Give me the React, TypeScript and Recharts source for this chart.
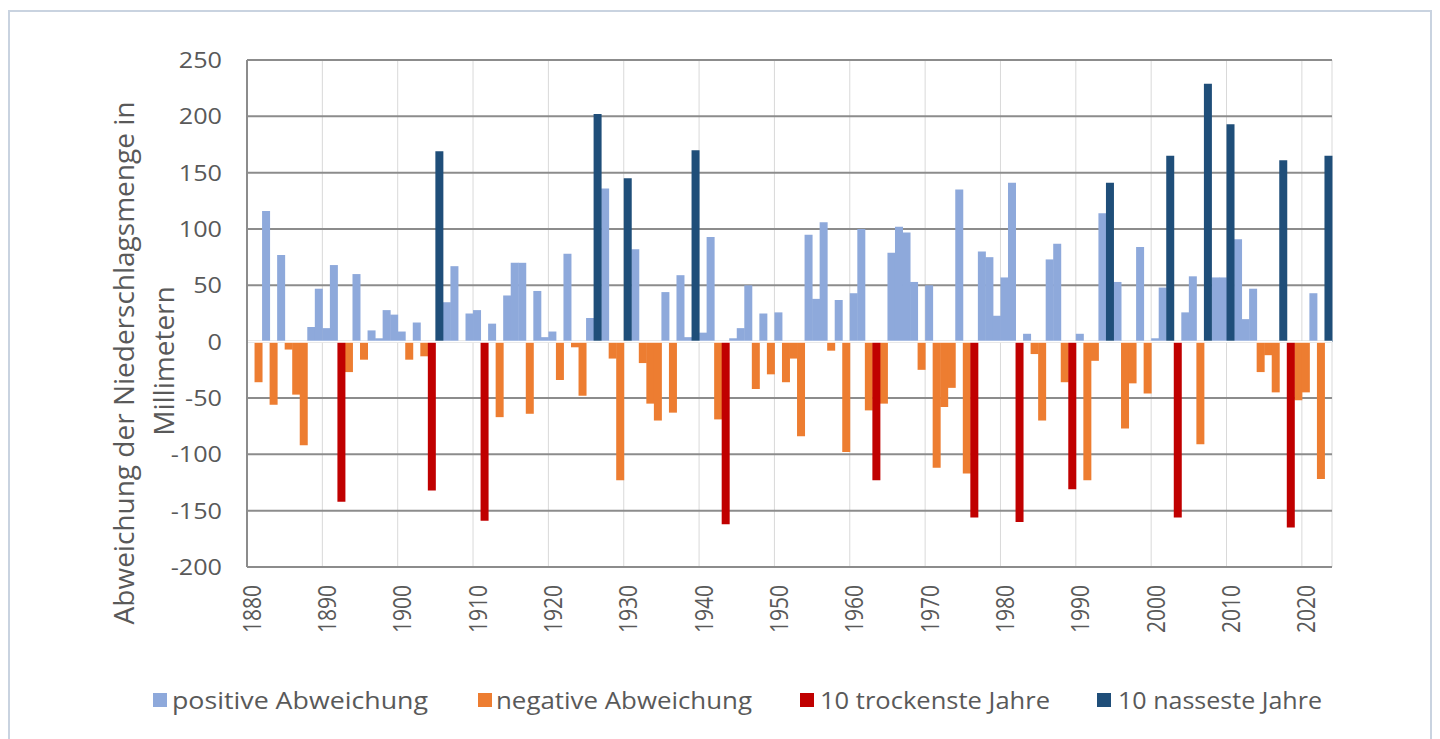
import React from "react";
import {
  Bar,
  BarChart,
  CartesianGrid,
  ReferenceLine,
  XAxis,
  YAxis,
} from "recharts";

// Abweichung vom Mittel, 1880 (leer) bis 2023
const firstYear = 1880;
const deviation: (number | null)[] = [
  null, -36, 116, -56, 77, -7, -47, -92, 13, 47,
  12, 68, -142, -27, 60, -16, 10, 3, 28, 24,
  9, -16, 17, -13, -132, 169, 35, 67, 0, 25,
  28, -159, 16, -67, 41, 70, 70, -64, 45, 4,
  9, -34, 78, -5, -48, 21, 202, 136, -15, -123,
  145, 82, -19, -55, -70, 44, -63, 59, 4, 170,
  8, 93, -69, -162, 3, 12, 50, -42, 25, -29,
  26, -36, -15, -84, 95, 38, 106, -8, 37, -98,
  43, 100, -61, -123, -55, 79, 102, 97, 53, -25,
  50, -112, -58, -41, 135, -117, -156, 80, 75, 23,
  57, 141, -160, 7, -11, -70, 73, 87, -36, -131,
  7, -123, -17, 114, 141, 53, -77, -37, 84, -46,
  3, 48, 165, -156, 26, 58, -91, 229, 57, 57,
  193, 91, 20, 47, -27, -12, -45, 161, -165, -52,
  -45, 43, -122, 165,
];
const years = deviation.map((_, i) => firstYear + i);

const wettestYears = [1905, 1926, 1930, 1939, 1994, 2002, 2007, 2010, 2017, 2023];
const driestYears = [1892, 1904, 1911, 1943, 1963, 1976, 1982, 1989, 2003, 2018];

const yTicks = [-200, -150, -100, -50, 0, 50, 100, 150, 200, 250];
// vertical grid every 5 years, on the left edge of the year
const gridTicks = years.filter((y) => (y - firstYear) % 5 === 0).map((y) => y - 0.5);

const seriesNames = {
  pos: "positive Abweichung",
  neg: "negative Abweichung",
  dry: "10 trockenste Jahre",
  wet: "10 nasseste Jahre",
};

const COLORS = {
  pos: "#8EA9DB",
  neg: "#ED7D31",
  dry: "#C00000",
  wet: "#1F4E79",
};

const data = years.map((year, i) => {
  const v = deviation[i];
  const wet = wettestYears.includes(year);
  const dry = driestYears.includes(year);
  return {
    year,
    pos: v != null && v > 0 && !wet ? v : 0,
    neg: v != null && v < 0 && !dry ? v : 0,
    dry: dry && v != null ? v : 0,
    wet: wet && v != null ? v : 0,
  };
});

const FONT = "'Open Sans', sans-serif";
const TEXT = "#595959";

const YTick = ({ x, y, payload }: any) => (
  <text
    transform={`translate(${x},${y}) scale(1.2,1)`}
    textAnchor="end"
    dominantBaseline="central"
    fill={TEXT}
    fontSize={21}
    fontFamily={FONT}
  >
    {payload.value}
  </text>
);

const XTick = ({ x, y, payload }: any) => (
  <text
    transform={`translate(${x},${y}) scale(1.2,1) rotate(-90)`}
    textAnchor="end"
    dominantBaseline="central"
    fill={TEXT}
    fontSize={21}
    fontFamily={FONT}
  >
    {payload.value}
  </text>
);

const legendItems = [
  { key: "pos", box: 153, text: 172, width: 256 },
  { key: "neg", box: 478, text: 496, width: 256 },
  { key: "dry", box: 800, text: 820, width: 230 },
  { key: "wet", box: 1097, text: 1118, width: 204 },
] as const;

export default function App() {
  return (
    <div style={{ position: "relative", width: 1440, height: 739, background: "#fff" }}>
      <style>{"body{margin:0;overflow:hidden;background:#fff}"}</style>
      <div
        style={{
          position: "absolute",
          left: 8,
          top: 10,
          width: 1424,
          height: 760,
          border: "2px solid #C9D3E0",
          boxSizing: "border-box",
        }}
      />
      <div style={{ position: "absolute", left: 0, top: 0 }}>
        <BarChart
          width={1440}
          height={739}
          data={data}
          stackOffset="sign"
          barCategoryGap={0}
          margin={{ top: 60, right: 108, bottom: 112, left: 167 }}
        >
          <XAxis xAxisId="grid" type="number" dataKey="year" domain={[1879.5, 2023.5]} ticks={gridTicks} hide />
          <CartesianGrid xAxisId="grid" horizontal={false} stroke="#D9D9D9" strokeWidth={1} />
          <CartesianGrid vertical={false} stroke="#8C8C8C" strokeWidth={2} />
          <XAxis
            dataKey="year"
            interval={9}
            height={60}
            axisLine={false}
            tickLine={false}
            tickSize={0}
            tickMargin={18}
            tick={<XTick />}
          />
          <YAxis
            domain={[-200, 250]}
            ticks={yTicks}
            width={80}
            axisLine={{ stroke: "#8C8C8C", strokeWidth: 2 }}
            tickLine={false}
            tickSize={0}
            tickMargin={25}
            tick={<YTick />}
          />
          <Bar dataKey="pos" name={seriesNames.pos} stackId="a" fill={COLORS.pos} isAnimationActive={false} />
          <Bar dataKey="neg" name={seriesNames.neg} stackId="a" fill={COLORS.neg} isAnimationActive={false} />
          <Bar dataKey="dry" name={seriesNames.dry} stackId="a" fill={COLORS.dry} isAnimationActive={false} />
          <Bar dataKey="wet" name={seriesNames.wet} stackId="a" fill={COLORS.wet} isAnimationActive={false} />
          <ReferenceLine y={0} stroke="#FFFFFF" strokeWidth={2} />
        </BarChart>
      </div>
      <svg
        width={1440}
        height={739}
        style={{ position: "absolute", left: 0, top: 0, pointerEvents: "none" }}
      >
        <g fill={TEXT} fontFamily={FONT} fontSize={28} textAnchor="middle">
          <text transform="translate(123,363) rotate(-90)" dominantBaseline="central">
            Abweichung der Niederschlagsmenge in
          </text>
          <text transform="translate(163,361) rotate(-90)" dominantBaseline="central">
            Millimetern
          </text>
        </g>
        {legendItems.map((it) => (
          <g key={it.key}>
            <rect x={it.box} y={693} width={14} height={14} fill={COLORS[it.key]} />
            <text
              x={it.text}
              y={700}
              dominantBaseline="central"
              fill={TEXT}
              fontSize={23}
              fontFamily={FONT}
              textLength={it.width}
              lengthAdjust="spacingAndGlyphs"
            >
              {seriesNames[it.key]}
            </text>
          </g>
        ))}
      </svg>
    </div>
  );
}
